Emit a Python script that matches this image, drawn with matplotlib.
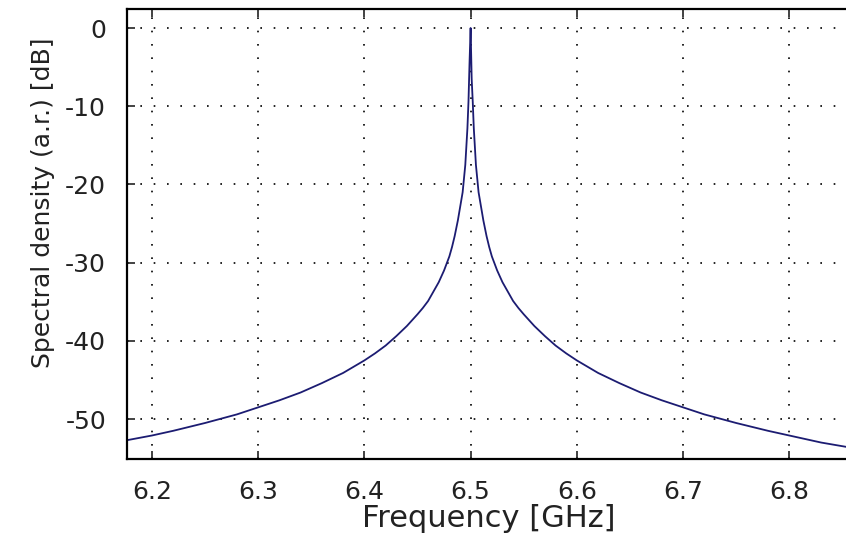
"""
Spectral density of a narrow resonance around 6.5 GHz (MATLAB-style plot)
"""
import numpy as np
import matplotlib
matplotlib.use('Agg')
import matplotlib.pyplot as plt

plt.rcParams['font.family'] = ['DejaVu Sans']

# Data: offset from the 6.5 GHz peak and level in dB
offsets = [-0.3235, -0.30, -0.28, -0.25, -0.22, -0.20, -0.18, -0.16, -0.14, -0.12,
           -0.10, -0.09, -0.08, -0.07, -0.06, -0.05, -0.045, -0.04, -0.035, -0.03,
           -0.025, -0.02, -0.0175, -0.015, -0.012, -0.01,
           -0.0075, -0.005, -0.003, -0.002, -0.001, 0.0,
           0.001, 0.002, 0.003, 0.005, 0.0075, 0.01, 0.012, 0.015, 0.0175, 0.02,
           0.025, 0.03, 0.035, 0.04, 0.045, 0.05, 0.06, 0.07, 0.08, 0.09,
           0.10, 0.12, 0.14, 0.16, 0.18, 0.20,
           0.22, 0.25, 0.28, 0.30, 0.33, 0.36]
levels = [-52.7, -52.1, -51.5, -50.5, -49.4, -48.5, -47.6, -46.6, -45.4, -44.1,
          -42.5, -41.6, -40.6, -39.4, -38.1, -36.6, -35.8, -34.9, -33.7, -32.5,
          -31.0, -29.2, -28.0, -26.6, -24.6, -23.0,
          -21.0, -17.5, -12.8, -9.4, -4.4, 0.0,
          -6.5, -9.4, -12.8, -17.5, -21.0, -23.0, -24.6, -26.6, -28.0, -29.2,
          -31.0, -32.5, -33.7, -34.9, -35.8, -36.6, -38.1, -39.4, -40.6, -41.6,
          -42.5, -44.1, -45.4, -46.6, -47.6, -48.5,
          -49.4, -50.5, -51.5, -52.1, -53.0, -53.7]
center = 6.5
xticks = [6.2, 6.3, 6.4, 6.5, 6.6, 6.7, 6.8]
yticks = [0, -10, -20, -30, -40, -50]

freq = center + np.array(offsets)

fig = plt.figure(figsize=(8.46, 5.52), dpi=100)
ax = fig.add_axes([0.150, 0.1685, 0.855, 0.8152])

ax.plot(freq, levels, color='#1c1c72', lw=1.3)

ax.set_xlim(6.1765, 6.8573)
ax.set_ylim(-55.1, 2.43)
ax.set_xticks(xticks)
ax.set_yticks(yticks)
ax.set_xticklabels([str(t) for t in xticks])
ax.set_yticklabels([str(t) for t in yticks])

ax.grid(True, color='black', linestyle=(0, (1, 7)), linewidth=1.2)
ax.tick_params(direction='in', length=6, width=1.2, top=True, right=False,
               labelsize=18, pad=15, colors='#222222')
for s in ax.spines.values():
    s.set_linewidth(1.6)
ax.spines['right'].set_visible(False)

ax.set_xlabel('Frequency [GHz]', fontsize=22, labelpad=0, color='#222222')
ax.set_ylabel('Spectral density (a.r.) [dB]', fontsize=18, color='#222222')
ax.yaxis.set_label_coords(-0.10, 0.57)

fig.savefig('out.png', dpi=100)
plt.close(fig)
